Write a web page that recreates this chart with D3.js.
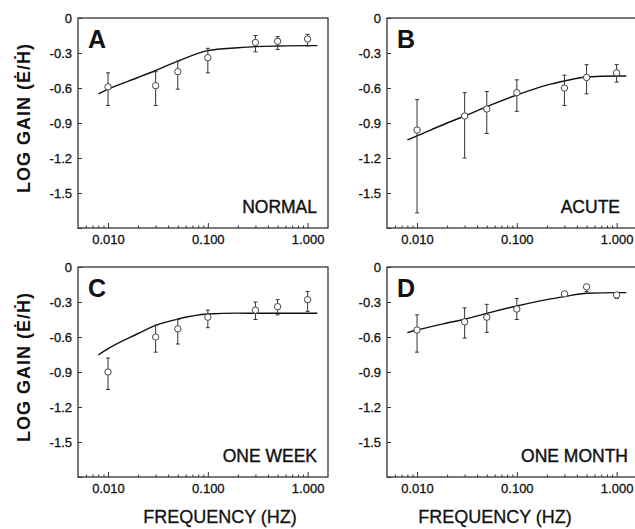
<!DOCTYPE html>
<html>
<head>
<meta charset="utf-8">
<script src="https://cdn.jsdelivr.net/npm/d3@7"></script>
<style>
  body { margin: 0; background: #fff; }
  svg { display: block; }
</style>
</head>
<body>
<div id="gain-chart"></div>
<script>
'use strict'

// frequencies tested (Hz)
const freqs = [0.01, 0.03, 0.05, 0.1, 0.3, 0.5, 1.0]

// panel ids + condition names
const panelLetters = ["A", "B", "C", "D"]
const conditions = ["NORMAL", "ACUTE", "ONE WEEK", "ONE MONTH"]

// mean log gain, upper and lower ends of the error bars
const meanNormal = [-0.59, -0.58, -0.46, -0.34, -0.21, -0.20, -0.18]
const hiNormal   = [-0.47, -0.46, -0.37, -0.26, -0.15, -0.16, -0.14]
const loNormal   = [-0.75, -0.75, -0.61, -0.47, -0.29, -0.27, -0.24]

const meanAcute = [-0.96, -0.84, -0.78, -0.64, -0.60, -0.51, -0.47]
const hiAcute   = [-0.70, -0.64, -0.63, -0.53, -0.49, -0.40, -0.40]
const loAcute   = [-1.67, -1.20, -0.99, -0.80, -0.75, -0.65, -0.55]

const meanWeek = [-0.90, -0.60, -0.53, -0.43, -0.37, -0.34, -0.28]
const hiWeek   = [-0.78, -0.50, -0.45, -0.37, -0.30, -0.28, -0.21]
const loWeek   = [-1.05, -0.73, -0.66, -0.52, -0.45, -0.41, -0.38]

const meanMonth = [-0.54, -0.47, -0.43, -0.36, -0.23, -0.17, -0.24]
const hiMonth   = [-0.41, -0.35, -0.32, -0.27, -0.21, -0.16, -0.22]
const loMonth   = [-0.73, -0.61, -0.56, -0.45, -0.25, -0.21, -0.27]

const curveFreqs = [0.008, 0.01, 0.02, 0.03, 0.05, 0.1, 0.2, 0.3, 0.5, 1.0, 1.25]
const fitNormal = [-0.65, -0.61, -0.51, -0.45, -0.37, -0.28, -0.255, -0.245, -0.24, -0.237, -0.237]
const fitAcute  = [-1.045, -1.01, -0.90, -0.84, -0.76, -0.66, -0.575, -0.54, -0.506, -0.497, -0.497]
const fitWeek   = [-0.754, -0.70, -0.57, -0.50, -0.446, -0.403, -0.395, -0.397, -0.397, -0.397, -0.397]
const fitMonth  = [-0.563, -0.54, -0.48, -0.448, -0.397, -0.334, -0.28, -0.254, -0.225, -0.22, -0.22]

// axis ticks
const xMajor = [0.01, 0.1, 1]
const xMinor = [0.006, 0.007, 0.008, 0.009, 0.02, 0.03, 0.04, 0.05, 0.06, 0.07, 0.08, 0.09,
                0.2, 0.3, 0.4, 0.5, 0.6, 0.7, 0.8, 0.9]
const yTicks = [0, -0.3, -0.6, -0.9, -1.2, -1.5, -1.8]
const yLabelled = [0, -0.3, -0.6, -0.9, -1.2, -1.5]

let gain_chart = ((selector = '#gain-chart') => {

    ////////////////////////////////////
    //////////// svg setup /////////////
    ////////////////////////////////////

    const svgWidth = 635, svgHeight = 529
    const font = "'Liberation Sans', Arial, Helvetica, 'DejaVu Sans', sans-serif"

    const svg = d3.select(selector)
        .append('svg')
        .attr('width', svgWidth)
        .attr('height', svgHeight)
        .attr('viewBox', `0 0 ${svgWidth} ${svgHeight}`)

    svg.append('rect').attr('width', svgWidth).attr('height', svgHeight).attr('fill', '#fff')

    const pw = 250, ph = 210
    const layout = [
        { left: 78,  top: 18,  labelEnd: 317, ytitle: true,  xtitle: false },
        { left: 387, top: 18,  labelEnd: 620, ytitle: false, xtitle: false },
        { left: 78,  top: 267, labelEnd: 317, ytitle: true,  xtitle: true, xtitleX: 220 },
        { left: 387, top: 267, labelEnd: 628, ytitle: false, xtitle: true, xtitleX: 495 }
    ]

    const means = [meanNormal, meanAcute, meanWeek, meanMonth]
    const his = [hiNormal, hiAcute, hiWeek, hiMonth]
    const los = [loNormal, loAcute, loWeek, loMonth]
    const fits = [fitNormal, fitAcute, fitWeek, fitMonth]

    ////////////////////////////////////
    //////////// Scales ////////////////
    ////////////////////////////////////

    const x = d3.scaleLog().domain([0.005, 1.6]).range([0, pw])
    const y = d3.scaleLinear().domain([-1.8, 0]).range([ph, 0])

    const line = d3.line()
        .x(d => x(d[0]))
        .y(d => y(d[1]))
        .curve(d3.curveMonotoneX)

    ////////////////////////////////////
    //////////// add to DOM ////////////
    ////////////////////////////////////

    layout.forEach((p, j) => {

        const g = svg.append('g')
            .attr('class', 'panel')
            .attr('transform', `translate(${p.left},${p.top})`)

        // frame
        g.append('rect')
            .attr('width', pw).attr('height', ph)
            .attr('fill', 'none')
            .attr('stroke', '#222')
            .attr('stroke-width', 1.2)

        // x axis, ticks pointing inward
        g.append('g').attr('transform', `translate(0,${ph})`)
            .call(d3.axisBottom(x).tickValues(xMajor).tickSize(-5).tickPadding(7)
                .tickFormat(d3.format('.3f')))
        g.append('g').attr('transform', `translate(0,${ph})`)
            .call(d3.axisBottom(x).tickValues(xMinor).tickSize(-2.5).tickFormat(''))

        // y axis
        g.append('g')
            .call(d3.axisLeft(y).tickValues(yTicks).tickSize(-4).tickPadding(6)
                .tickFormat(d => yLabelled.includes(d) ? (d === 0 ? '0' : d.toFixed(1)) : ''))

        g.selectAll('.domain').remove()
        g.selectAll('.tick line').attr('stroke', '#333')
        g.selectAll('.tick text')
            .style('font-family', font)
            .style('font-size', '13px')
            .attr('fill', '#111')
            .attr('stroke', '#111')
            .attr('stroke-width', 0.3)

        // fitted curve
        const fitData = curveFreqs.map((f, i) => [f, fits[j][i]])
        g.append('path')
            .datum(fitData)
            .attr('d', line)
            .attr('fill', 'none')
            .attr('stroke', '#111')
            .attr('stroke-width', 1.4)

        // error bars + open circles
        const pts = freqs.map((f, i) => ({ f: f, m: means[j][i], hi: his[j][i], lo: los[j][i] }))

        const bars = g.selectAll('.err').data(pts).join('g').attr('class', 'err')
        bars.append('line')
            .attr('x1', d => x(d.f)).attr('x2', d => x(d.f))
            .attr('y1', d => y(d.hi)).attr('y2', d => y(d.lo))
            .attr('stroke', '#333').attr('stroke-width', 1)
        bars.append('line')
            .attr('x1', d => x(d.f) - 2).attr('x2', d => x(d.f) + 2)
            .attr('y1', d => y(d.hi)).attr('y2', d => y(d.hi))
            .attr('stroke', '#333').attr('stroke-width', 1)
        bars.append('line')
            .attr('x1', d => x(d.f) - 2).attr('x2', d => x(d.f) + 2)
            .attr('y1', d => y(d.lo)).attr('y2', d => y(d.lo))
            .attr('stroke', '#333').attr('stroke-width', 1)

        g.selectAll('.pt').data(pts).join('circle')
            .attr('class', 'pt')
            .attr('cx', d => x(d.f))
            .attr('cy', d => y(d.m))
            .attr('r', 3.2)
            .attr('fill', '#fff')
            .attr('stroke', '#444')
            .attr('stroke-width', 1)

        // panel letter
        g.append('text')
            .attr('x', 10).attr('y', 30)
            .text(panelLetters[j])
            .style('font-family', font)
            .style('font-size', '25px')
            .style('font-weight', '700')
            .attr('fill', '#111')

        // condition name
        svg.append('text')
            .attr('x', p.labelEnd).attr('y', p.top + ph - 15)
            .attr('text-anchor', 'end')
            .text(conditions[j])
            .style('font-family', font)
            .style('font-size', '17.5px')
            .attr('fill', '#111')
            .attr('stroke', '#111')
            .attr('stroke-width', 0.4)

        if (p.ytitle) {
            svg.append('text')
                .attr('transform', `translate(30,${p.top + 100}) rotate(-90)`)
                .attr('text-anchor', 'middle')
                .text('LOG GAIN (\u0116/\u1E22)')
                .style('font-family', font)
                .style('font-size', '18px')
                .style('font-weight', '700')
                .style('letter-spacing', '1px')
                .attr('fill', '#111')
        }

        if (p.xtitle) {
            svg.append('text')
                .attr('x', p.xtitleX).attr('y', 523)
                .attr('text-anchor', 'middle')
                .text('FREQUENCY (HZ)')
                .style('font-family', font)
                .style('font-size', '18px')
                .attr('fill', '#111')
                .attr('stroke', '#111')
                .attr('stroke-width', 0.3)
        }
    })

})()
</script>
</body>
</html>
